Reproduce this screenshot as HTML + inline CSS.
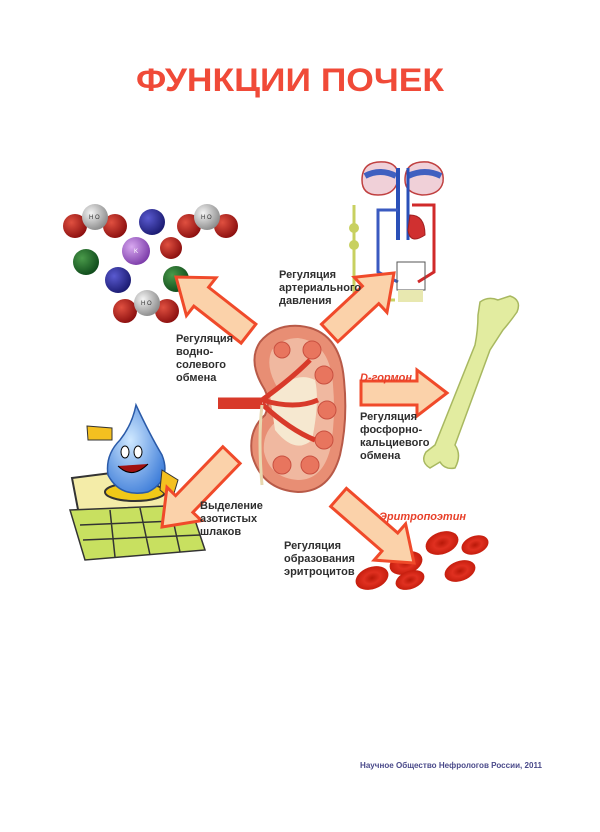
<!DOCTYPE html>
<html><head><meta charset="utf-8"><style>
html,body{margin:0;padding:0;background:#fff;}
svg{display:block;}
.l{font-family:"Liberation Sans",sans-serif;font-weight:bold;font-size:11px;fill:#2e2e2e;}
.r{font-family:"Liberation Sans",sans-serif;font-weight:bold;font-style:italic;font-size:11px;fill:#e8402a;}
</style></head><body>
<svg width="600" height="832" viewBox="0 0 600 832" xmlns="http://www.w3.org/2000/svg">
<defs>
<radialGradient id="gr" cx="35%" cy="35%" r="70%"><stop offset="0" stop-color="#e05040"/><stop offset="1" stop-color="#8a0e0e"/></radialGradient>
<radialGradient id="gw" cx="35%" cy="35%" r="70%"><stop offset="0" stop-color="#f4f4f4"/><stop offset="1" stop-color="#8a8a8a"/></radialGradient>
<radialGradient id="gb" cx="35%" cy="35%" r="70%"><stop offset="0" stop-color="#5a5ad0"/><stop offset="1" stop-color="#1a1a70"/></radialGradient>
<radialGradient id="gg" cx="35%" cy="35%" r="70%"><stop offset="0" stop-color="#4a9a4a"/><stop offset="1" stop-color="#0e4a1a"/></radialGradient>
<radialGradient id="gp" cx="35%" cy="35%" r="70%"><stop offset="0" stop-color="#d8a8f0"/><stop offset="1" stop-color="#7a3aa8"/></radialGradient>
<radialGradient id="gc" cx="50%" cy="50%" r="55%"><stop offset="0" stop-color="#b81808"/><stop offset="0.45" stop-color="#e03020"/><stop offset="1" stop-color="#c01a0a"/></radialGradient>
<radialGradient id="gd" cx="40%" cy="40%" r="70%"><stop offset="0" stop-color="#cfe8ff"/><stop offset="1" stop-color="#3a7ad8"/></radialGradient>
</defs>

<text x="290" y="91" text-anchor="middle" font-family="Liberation Sans,sans-serif" font-weight="bold" font-size="32" fill="#f04a38" textLength="308" lengthAdjust="spacingAndGlyphs">ФУНКЦИИ ПОЧЕК</text>

<!-- molecules -->
<g stroke="none">
<circle cx="75" cy="226" r="12" fill="url(#gr)"/><circle cx="115" cy="226" r="12" fill="url(#gr)"/><circle cx="95" cy="217" r="13" fill="url(#gw)"/>
<circle cx="152" cy="222" r="13" fill="url(#gb)"/>
<circle cx="189" cy="226" r="12" fill="url(#gr)"/><circle cx="226" cy="226" r="12" fill="url(#gr)"/><circle cx="207" cy="217" r="13" fill="url(#gw)"/>
<circle cx="136" cy="251" r="14" fill="url(#gp)"/>
<circle cx="171" cy="248" r="11" fill="url(#gr)"/>
<circle cx="86" cy="262" r="13" fill="url(#gg)"/>
<circle cx="118" cy="280" r="13" fill="url(#gb)"/>
<circle cx="176" cy="279" r="13" fill="url(#gg)"/>
<circle cx="125" cy="311" r="12" fill="url(#gr)"/><circle cx="167" cy="311" r="12" fill="url(#gr)"/><circle cx="147" cy="303" r="13" fill="url(#gw)"/>
</g>
<g font-family="Liberation Sans,sans-serif" font-size="6" fill="#fff"><text x="89" y="219" fill="#333">H O</text><text x="201" y="219" fill="#333">H O</text><text x="141" y="305" fill="#333">H O</text><text x="134" y="253">K</text></g>

<!-- circulation -->
<g fill="none" stroke-width="3">
<path d="M362,180 Q362,160 385,162 Q400,164 398,180 Q395,195 378,195 Q362,195 362,180Z" fill="#f0d0d8" stroke="#c04040" stroke-width="1.5"/>
<path d="M405,180 Q405,160 428,162 Q445,166 443,182 Q440,195 422,195 Q405,193 405,180Z" fill="#f0d0d8" stroke="#c04040" stroke-width="1.5"/>
<path d="M365,176 Q380,168 396,176" stroke="#4060c0" stroke-width="6"/><path d="M408,176 Q425,168 441,176" stroke="#4060c0" stroke-width="6"/>
<path d="M398,168 L398,240" stroke="#2a50b8" stroke-width="4"/><path d="M408,168 L408,240" stroke="#2a50b8" stroke-width="3"/>
<path d="M398,210 L378,210 L378,272 L398,282" stroke="#3a5ac0"/>
<path d="M412,205 L434,205 L434,272 L418,282" stroke="#d02a2a"/>
<path d="M410,215 Q425,215 425,235 Q410,245 408,230Z" fill="#d03030" stroke="#a02020" stroke-width="1"/>
<path d="M354,205 L354,300 L395,300" stroke="#c8d060" stroke-width="3"/>
<circle cx="354" cy="228" r="5" fill="#c8d060" stroke="none"/><circle cx="354" cy="245" r="5" fill="#c8d060" stroke="none"/>
<rect x="397" y="262" width="28" height="28" stroke="#555" stroke-width="1"/>
<rect x="398" y="290" width="25" height="12" fill="#e8e8b0" stroke="none"/>
</g>

<!-- bone -->
<path d="M480,302 Q488,296 498,300 L510,296 Q522,300 517,312 Q510,322 503,330 L490,350 L455,445 Q462,455 455,468 Q445,470 440,462 L430,468 Q420,462 426,452 L435,445 L475,345 Q478,330 478,315 Z" fill="#e2eca0" stroke="#a8b860" stroke-width="1.5"/>

<!-- kidney -->
<path d="M300,326 Q340,330 344,380 Q348,420 340,455 Q330,492 298,492 Q262,490 252,455 Q248,430 265,415 Q272,400 262,385 Q248,360 260,342 Q275,324 300,326Z" fill="#e88e74" stroke="#b85a48" stroke-width="2"/>
<path d="M298,338 Q330,342 333,385 Q336,420 330,450 Q322,480 298,480 Q270,478 264,452 Q262,432 278,420 Q288,400 276,385 Q265,365 272,350 Q282,338 298,338Z" fill="#f0b8a0"/>
<g fill="#e8755e" stroke="#c85040" stroke-width="1"><circle cx="312" cy="350" r="9"/><circle cx="324" cy="375" r="9"/><circle cx="327" cy="410" r="9"/><circle cx="324" cy="440" r="9"/><circle cx="310" cy="465" r="9"/><circle cx="282" cy="465" r="9"/><circle cx="282" cy="350" r="8"/></g>
<path d="M270,395 Q295,370 315,380 Q320,400 312,440 Q295,455 275,430 Z" fill="#f6e8d0"/>
<path d="M218,400 L262,400 Q290,380 310,360 M262,400 Q295,410 318,400 M262,404 Q290,430 315,440" fill="none" stroke="#d83a2a" stroke-width="5"/>
<path d="M218,405 L262,405" stroke="#d83a2a" stroke-width="8"/>
<path d="M262,405 Q258,440 262,485" stroke="#e8d8b0" stroke-width="3" fill="none"/>

<!-- drop & toilet -->
<path d="M72,478 L135,470 L170,488 L160,530 L120,535 L80,520 Z" fill="#f4eca8" stroke="#333" stroke-width="2"/>
<ellipse cx="135" cy="492" rx="30" ry="9" fill="#f0c818" stroke="#333" stroke-width="2"/>
<path d="M70,510 L190,505 L205,550 L85,560 Z" fill="#c8e060" stroke="#333" stroke-width="1.5"/>
<path d="M80,525 L197,520 M83,540 L200,535 M110,510 L115,557 M140,508 L150,555 M170,506 L180,552" stroke="#333" stroke-width="1.5"/>
<path d="M136,405 Q150,435 162,455 Q172,480 148,492 Q120,498 108,475 Q105,455 120,440 Q132,425 136,405Z" fill="url(#gd)" stroke="#2a5aa8" stroke-width="1.5"/>
<ellipse cx="125" cy="452" rx="4" ry="6" fill="#fff" stroke="#000"/><ellipse cx="138" cy="452" rx="4" ry="6" fill="#fff" stroke="#000"/>
<path d="M118,466 Q132,480 148,464" fill="#a01010" stroke="#000"/>
<path d="M87,426 L112,428 L112,440 L88,440 Z" fill="#f4c020" stroke="#333"/>
<path d="M162,470 L178,480 L172,500 L160,490 Z" fill="#f4c020" stroke="#333"/>

<!-- RBCs -->
<g fill="url(#gc)">
<ellipse cx="372" cy="578" rx="17" ry="11" transform="rotate(-20 372 578)"/>
<ellipse cx="406" cy="563" rx="17" ry="11" transform="rotate(-20 406 563)"/>
<ellipse cx="410" cy="580" rx="15" ry="9" transform="rotate(-20 410 580)"/>
<ellipse cx="442" cy="543" rx="17" ry="11" transform="rotate(-20 442 543)"/>
<ellipse cx="460" cy="571" rx="16" ry="10" transform="rotate(-20 460 571)"/>
<ellipse cx="475" cy="545" rx="14" ry="9" transform="rotate(-20 475 545)"/>
</g>

<!-- arrows -->
<g transform="translate(176,277) rotate(218)"><polygon points="0,0 -32,-24 -32,-12 -92,-12 -92,12 -32,12 -32,24" fill="#fbd2aa" stroke="#f04a2a" stroke-width="3"/></g>
<g transform="translate(394,273) rotate(-43)"><polygon points="0,0 -32,-24 -32,-12 -88,-12 -88,12 -32,12 -32,24" fill="#fbd2aa" stroke="#f04a2a" stroke-width="3"/></g>
<g transform="translate(447,393) rotate(0)"><polygon points="0,0 -30,-23 -30,-12 -86,-12 -86,12 -30,12 -30,23" fill="#fbd2aa" stroke="#f04a2a" stroke-width="3"/></g>
<g transform="translate(162,527) rotate(134)"><polygon points="0,0 -32,-24 -32,-12 -100,-12 -100,12 -32,12 -32,24" fill="#fbd2aa" stroke="#f04a2a" stroke-width="3"/></g>
<g transform="translate(414,563) rotate(41)"><polygon points="0,0 -32,-24 -32,-12 -100,-12 -100,12 -32,12 -32,24" fill="#fbd2aa" stroke="#f04a2a" stroke-width="3"/></g>

<!-- labels -->
<text class="l"><tspan x="279" y="278">Регуляция</tspan><tspan x="279" y="291">артериального</tspan><tspan x="279" y="304">давления</tspan></text>
<text class="l"><tspan x="176" y="342">Регуляция</tspan><tspan x="176" y="355">водно-</tspan><tspan x="176" y="368">солевого</tspan><tspan x="176" y="381">обмена</tspan></text>
<text class="r" x="360" y="381">D-гормон</text>
<text class="l"><tspan x="360" y="420">Регуляция</tspan><tspan x="360" y="433">фосфорно-</tspan><tspan x="360" y="446">кальциевого</tspan><tspan x="360" y="459">обмена</tspan></text>
<text class="l"><tspan x="200" y="509">Выделение</tspan><tspan x="200" y="522">азотистых</tspan><tspan x="200" y="535">шлаков</tspan></text>
<text class="r" x="379" y="520">Эритропоэтин</text>
<text class="l"><tspan x="284" y="549">Регуляция</tspan><tspan x="284" y="562">образования</tspan><tspan x="284" y="575">эритроцитов</tspan></text>

<text x="360" y="768" font-family="Liberation Sans,sans-serif" font-weight="bold" font-size="8" fill="#4a4a8a" textLength="182" lengthAdjust="spacingAndGlyphs">Научное Общество Нефрологов России, 2011</text>
</svg>
</body></html>
